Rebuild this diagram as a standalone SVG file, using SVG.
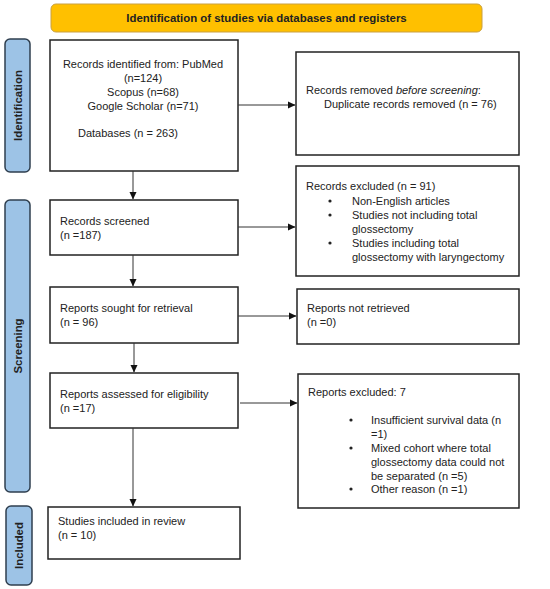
<svg xmlns="http://www.w3.org/2000/svg" width="550" height="589" viewBox="0 0 550 589">
<defs>
<marker id="ah" markerWidth="8" markerHeight="8" refX="7" refY="4" orient="auto" markerUnits="userSpaceOnUse">
<path d="M0,0.5 L7.5,4 L0,7.5 Z" fill="#111"/>
</marker>
<style>
.box{fill:#fff;stroke:#222;stroke-width:1.5}
.side{fill:#9dc3e6;stroke:#2f3f4f;stroke-width:1.5}
.t{font-family:"Liberation Sans",Arial,sans-serif;font-size:11px;fill:#222}
.b{font-family:"Liberation Sans",Arial,sans-serif;font-size:11.4px;font-weight:bold;fill:#222}
.c{stroke:#333;stroke-width:1;fill:none;marker-end:url(#ah)}
</style>
</defs>
<rect width="550" height="589" fill="#fff"/>
<g id="banner">
<rect x="51" y="4" width="431" height="28" rx="5" fill="#ffc000" stroke="#c9a040" stroke-width="1"/>
<text class="b" x="266.5" y="22" text-anchor="middle">Identification of studies via databases and registers</text>
</g>
<g id="label-identification">
<rect class="side" x="5" y="39" width="25" height="133" rx="5"/>
<text class="b" transform="translate(21.5,105.5) rotate(-90)" text-anchor="middle">Identification</text>
</g>
<g id="label-screening">
<rect class="side" x="5" y="200" width="25" height="292" rx="5"/>
<text class="b" transform="translate(21.5,346) rotate(-90)" text-anchor="middle">Screening</text>
</g>
<g id="label-included">
<rect class="side" x="6" y="506" width="26" height="79" rx="5"/>
<text class="b" transform="translate(23,545.5) rotate(-90)" text-anchor="middle">Included</text>
</g>
<g id="records-identified">
<rect class="box" x="50" y="40" width="188" height="131"/>
<text class="t" x="143" y="68" text-anchor="middle">Records identified from: PubMed</text>
<text class="t" x="143" y="82" text-anchor="middle">(n=124)</text>
<text class="t" x="143" y="96" text-anchor="middle">Scopus (n=68)</text>
<text class="t" x="143" y="110" text-anchor="middle">Google Scholar (n=71)</text>
<text class="t" x="78" y="137">Databases (n = 263)</text>
</g>
<g id="records-removed">
<rect class="box" x="296" y="52" width="223" height="103"/>
<text class="t" x="306" y="94">Records removed <tspan font-style="italic">before screening</tspan>:</text>
<text class="t" x="324" y="108">Duplicate records removed (n = 76)</text>
</g>
<g id="records-screened">
<rect class="box" x="50" y="200" width="188" height="55"/>
<text class="t" x="60" y="225">Records screened</text>
<text class="t" x="60" y="239">(n =187)</text>
</g>
<g id="records-excluded">
<rect class="box" x="296" y="166" width="223" height="110"/>
<text class="t" x="306" y="190">Records excluded (n = 91)</text>
<circle cx="330" cy="201" r="1.6" fill="#222"/>
<text class="t" x="352" y="205">Non-English articles</text>
<circle cx="330" cy="215" r="1.6" fill="#222"/>
<text class="t" x="352" y="219">Studies not including total</text>
<text class="t" x="352" y="233">glossectomy</text>
<circle cx="330" cy="243" r="1.6" fill="#222"/>
<text class="t" x="352" y="247">Studies including total</text>
<text class="t" x="352" y="261">glossectomy with laryngectomy</text>
</g>
<g id="reports-sought">
<rect class="box" x="50" y="287" width="188" height="56"/>
<text class="t" x="60" y="312">Reports sought for retrieval</text>
<text class="t" x="60" y="326">(n = 96)</text>
</g>
<g id="reports-not-retrieved">
<rect class="box" x="297" y="289" width="222" height="55"/>
<text class="t" x="307" y="312">Reports not retrieved</text>
<text class="t" x="307" y="326">(n =0)</text>
</g>
<g id="reports-assessed">
<rect class="box" x="50" y="373" width="188" height="55"/>
<text class="t" x="60" y="398">Reports assessed for eligibility</text>
<text class="t" x="60" y="412">(n =17)</text>
</g>
<g id="reports-excluded">
<rect class="box" x="298" y="374" width="221" height="134"/>
<text class="t" x="308" y="396">Reports excluded: 7</text>
<circle cx="351" cy="420" r="1.6" fill="#222"/>
<text class="t" x="371" y="424">Insufficient survival data (n</text>
<text class="t" x="371" y="438">=1)</text>
<circle cx="351" cy="448" r="1.6" fill="#222"/>
<text class="t" x="371" y="452">Mixed cohort where total</text>
<text class="t" x="371" y="466">glossectomy data could not</text>
<text class="t" x="371" y="480">be separated (n =5)</text>
<circle cx="351" cy="489" r="1.6" fill="#222"/>
<text class="t" x="371" y="493">Other reason (n =1)</text>
</g>
<g id="studies-included">
<rect class="box" x="48" y="507" width="192" height="52"/>
<text class="t" x="58" y="525">Studies included in review</text>
<text class="t" x="58" y="539">(n = 10)</text>
</g>
<g id="connectors">
<line class="c" x1="238" y1="105" x2="295" y2="105"/>
<line class="c" x1="133" y1="171" x2="133" y2="199"/>
<line class="c" x1="238" y1="227" x2="295" y2="227"/>
<line class="c" x1="133" y1="255" x2="133" y2="286"/>
<line class="c" x1="238" y1="316" x2="296" y2="316"/>
<line class="c" x1="134" y1="343" x2="134" y2="372"/>
<line class="c" x1="240" y1="403" x2="297" y2="403"/>
<line class="c" x1="133" y1="428" x2="133" y2="506"/>
</g>
</svg>
